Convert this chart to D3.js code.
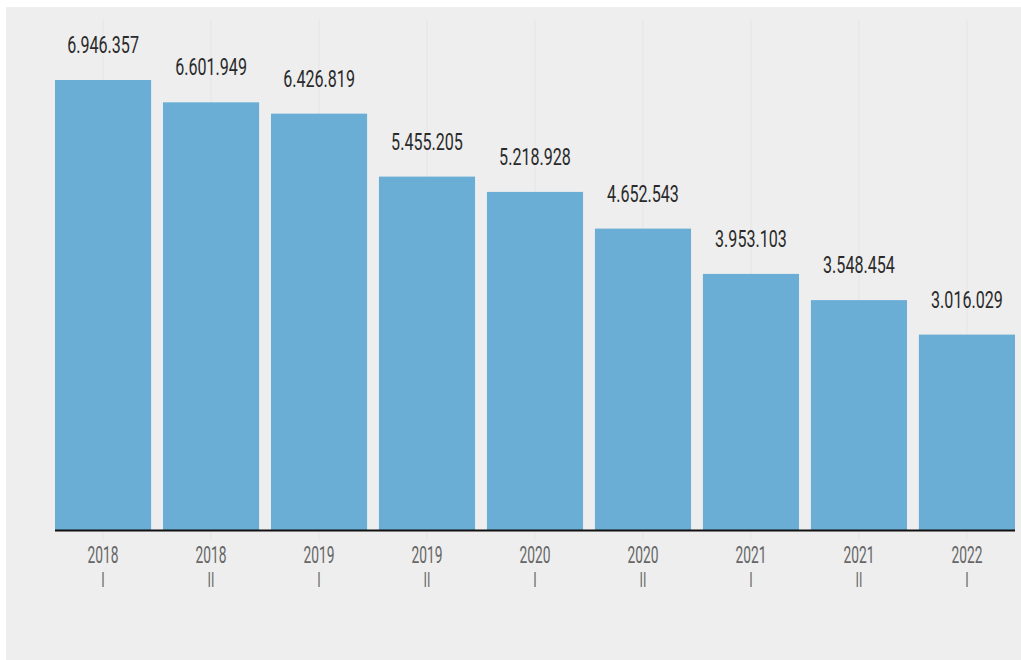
<!DOCTYPE html>
<html><head><meta charset="utf-8">
<script src="https://cdn.jsdelivr.net/npm/d3@7"></script>
<style>
html,body{margin:0;padding:0;background:#fff;}
svg{display:block;}
text{font-family:Roboto,"DejaVu Sans",sans-serif;}
</style></head>
<body>
<script>
const years = ["2018","2018","2019","2019","2020","2020","2021","2021","2022"];
const semesters = ["I","II","I","II","I","II","I","II","I"];
const values = [6946357, 6601949, 6426819, 5455205, 5218928, 4652543, 3953103, 3548454, 3016029];
const valueLabels = ["6.946.357","6.601.949","6.426.819","5.455.205","5.218.928","4.652.543","3.953.103","3.548.454","3.016.029"];

const W = 1021, H = 660;
const svg = d3.select("body").append("svg").attr("width", W).attr("height", H);
svg.append("rect").attr("x",6).attr("y",7).attr("width",W-6).attr("height",H-7).attr("fill","#eeeeee");

const idx = d3.range(values.length);
const x = d3.scaleBand().domain(idx).range([55, 1015]).paddingInner(0.11).paddingOuter(0);
const y = d3.scaleLinear().domain([0, d3.max(values)]).range([530, 80]);
const cx = d => x(d) + x.bandwidth()/2;

// gridlines
svg.append("g").selectAll("line").data(idx).join("line")
  .attr("x1", cx).attr("x2", cx)
  .attr("y1", 19).attr("y2", 541)
  .attr("stroke", "#e8e8e8").attr("stroke-width", 1.5);

svg.append("g").selectAll("rect").data(idx).join("rect")
  .attr("x", d => x(d)).attr("width", x.bandwidth())
  .attr("y", d => y(values[d])).attr("height", d => y(0) - y(values[d]))
  .attr("fill", "#6aaed6");

svg.append("line").attr("x1", 55).attr("x2", 1015).attr("y1", 530.5).attr("y2", 530.5)
  .attr("stroke", "#111").attr("stroke-width", 2);

svg.append("g").selectAll("text").data(idx).join("text")
  .attr("transform", d => `translate(${cx(d)},${y(values[d]) - 27}) scale(0.7,1)`)
  .attr("text-anchor", "middle")
  .attr("font-size", 23).attr("fill", "#2a2a2a")
  .text(d => valueLabels[d]);

const xl = svg.append("g").selectAll("g").data(idx).join("g")
  .attr("transform", d => `translate(${cx(d)},0)`);
xl.append("text").attr("transform","translate(0,563) scale(0.6,1)").attr("text-anchor","middle")
  .attr("font-size",23).attr("fill","#666").text(d => years[d]);
xl.append("text").attr("transform","translate(0,587) scale(0.6,1)").attr("text-anchor","middle")
  .attr("font-size",21).attr("fill","#6a6a6a").text(d => semesters[d]);
</script>
</body></html>
